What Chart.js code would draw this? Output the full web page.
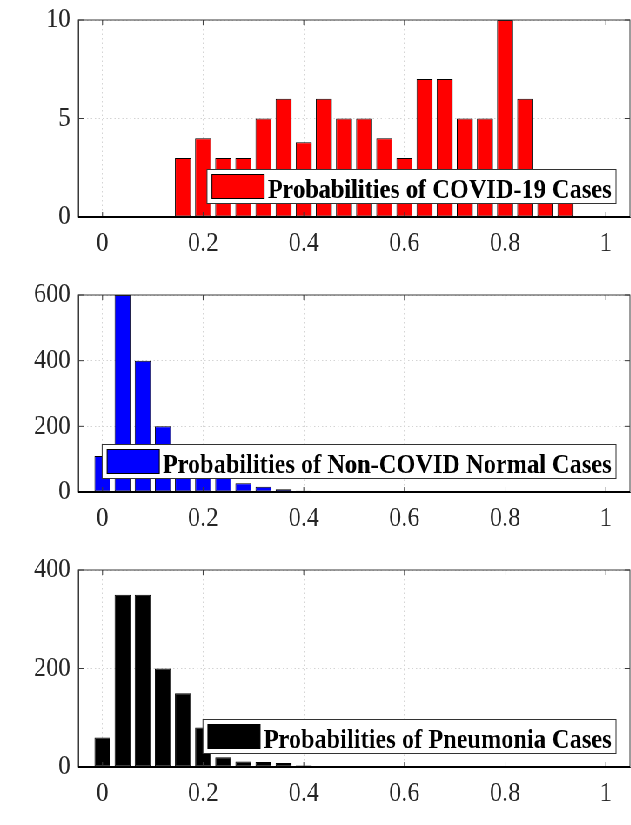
<!DOCTYPE html>
<html>
<head>
<meta charset="utf-8">
<script src="https://cdn.jsdelivr.net/npm/chart.js@4"></script>
<style>
  html, body { margin: 0; padding: 0; background: #fff; overflow: hidden; }
  /* the reference figure is squeezed horizontally, so draw wide and squash */
  #page { width: 725px; height: 825px; transform: scaleX(0.87); transform-origin: 0 0; }
  .panel { position: relative; width: 725px; height: 275px; }
</style>
</head>
<body>
<div id="page">
  <div class="panel"><canvas id="covid"></canvas></div>
  <div class="panel"><canvas id="normal"></canvas></div>
  <div class="panel"><canvas id="pneumonia"></canvas></div>
</div>
<script>
const binCenters = [0, 0.04, 0.08, 0.12, 0.16, 0.2, 0.24, 0.28, 0.32, 0.36, 0.4, 0.44, 0.48,
  0.52, 0.56, 0.6, 0.64, 0.68, 0.72, 0.76, 0.8, 0.84, 0.88, 0.92, 0.96, 1]
const covidCounts = [0, 0, 0, 0, 3, 4, 3, 3, 5, 6, 3.8, 6, 5, 5, 4, 3, 7, 7, 5, 5, 10, 6, 2, 1, 0, 0]
const normalCounts = [110, 600, 400, 200, 120, 80, 50, 27, 16, 8, 4, 0, 0, 0, 0, 0, 0, 0, 0, 0, 0, 0, 0, 0, 0, 0]
const pneumoniaCounts = [60, 350, 350, 200, 150, 80, 20, 11, 10, 8, 3, 0, 0, 0, 0, 0, 0, 0, 0, 0, 0, 0, 0, 0, 0, 0]

const xTicks = [0, 0.2, 0.4, 0.6, 0.8, 1]
const covidTicks = [0, 5, 10]
const normalTicks = [0, 200, 400, 600]
const pneumoniaTicks = [0, 200, 400]

const FONT = "'Liberation Serif', 'Times New Roman', serif"
Chart.defaults.font.family = FONT
Chart.defaults.font.size = 28
Chart.defaults.color = "#262626"

// box, inward ticks, zero line and the floating legend (MATLAB look)
const frame = {
  id: "frame",
  afterDatasetsDraw(chart, args, opts) {
    const { ctx, chartArea: a, scales } = chart
    const x = scales.x, y = scales.y
    ctx.save()
    ctx.strokeStyle = "#3a3a3a"
    ctx.lineWidth = 1
    ctx.strokeRect(a.left, a.top, a.right - a.left, a.bottom - a.top)

    ctx.beginPath()
    xTicks.forEach(v => {
      const px = x.getPixelForValue(v)
      ctx.moveTo(px, a.bottom); ctx.lineTo(px, a.bottom - 5)
      ctx.moveTo(px, a.top); ctx.lineTo(px, a.top + 5)
    })
    y.ticks.forEach(t => {
      const py = y.getPixelForValue(t.value)
      ctx.moveTo(a.left, py); ctx.lineTo(a.left + 6, py)
      ctx.moveTo(a.right, py); ctx.lineTo(a.right - 6, py)
    })
    ctx.stroke()

    const y0 = y.getPixelForValue(0)
    ctx.strokeStyle = "#000"
    ctx.lineWidth = 2
    ctx.beginPath()
    ctx.moveTo(a.left, y0); ctx.lineTo(a.right, y0)
    ctx.stroke()

    // legend
    ctx.font = "bold 28px " + FONT
    const tw = ctx.measureText(opts.text).width
    const h = 34
    const w = 5.7 + 60 + 4 + tw + 5
    const right = a.right - 16
    const bottom = a.bottom - 13.5
    const left = right - w, top = bottom - h
    ctx.fillStyle = "#fff"
    ctx.fillRect(left, top, w, h)
    ctx.strokeStyle = "#333"
    ctx.lineWidth = 1
    ctx.strokeRect(left, top, w, h)
    ctx.fillStyle = opts.color
    ctx.fillRect(left + 5.7, top + 5, 60, 24)
    ctx.strokeStyle = "#000"
    ctx.strokeRect(left + 5.7, top + 5, 60, 24)
    ctx.fillStyle = "#000"
    ctx.textBaseline = "alphabetic"
    ctx.fillText(opts.text, left + 5.7 + 60 + 4, top + 28)
    ctx.restore()
  }
}

function histChart(id, counts, yTicks, color, label) {
  return new Chart(document.getElementById(id), {
    type: "bar",
    data: {
      datasets: [{
        label,
        data: binCenters.map((c, i) => ({ x: c, y: counts[i] })),
        backgroundColor: color,
        borderColor: "#000",
        borderWidth: 1,
        borderSkipped: false,
        barPercentage: 0.8,
        categoryPercentage: 1
      }]
    },
    options: {
      responsive: true,
      maintainAspectRatio: false,
      animation: false,
      events: [],
      layout: { padding: { top: 20, right: 1, left: 0, bottom: 0 } },
      plugins: {
        legend: { display: false },
        tooltip: { enabled: false },
        frame: { text: label, color }
      },
      scales: {
        x: {
          type: "linear",
          offset: false,
          min: -0.048,
          max: 1.048,
          afterBuildTicks: s => { s.ticks = xTicks.map(v => ({ value: v })) },
          afterFit: s => { s.height = 58 },
          ticks: { padding: 10, maxRotation: 0, autoSkip: false, callback: v => String(v) },
          grid: { color: "#d4d4d4", drawTicks: false, offset: false },
          border: { color: "#3a3a3a", dash: [1.5, 3] }
        },
        y: {
          min: 0,
          max: yTicks[yTicks.length - 1],
          afterBuildTicks: s => { s.ticks = yTicks.map(v => ({ value: v })) },
          afterFit: s => { s.width = 90 },
          ticks: { padding: 9, font: { lineHeight: 0.7 }, callback: v => String(v) },
          grid: { color: "#d4d4d4", drawTicks: false },
          border: { color: "#3a3a3a", dash: [1.5, 3] }
        }
      }
    },
    plugins: [frame]
  })
}

histChart("covid", covidCounts, covidTicks, "#ff0000", "Probabilities of COVID-19 Cases")
histChart("normal", normalCounts, normalTicks, "#0000ff", "Probabilities of Non-COVID Normal Cases")
histChart("pneumonia", pneumoniaCounts, pneumoniaTicks, "#000000", "Probabilities of Pneumonia Cases")
</script>
</body>
</html>
